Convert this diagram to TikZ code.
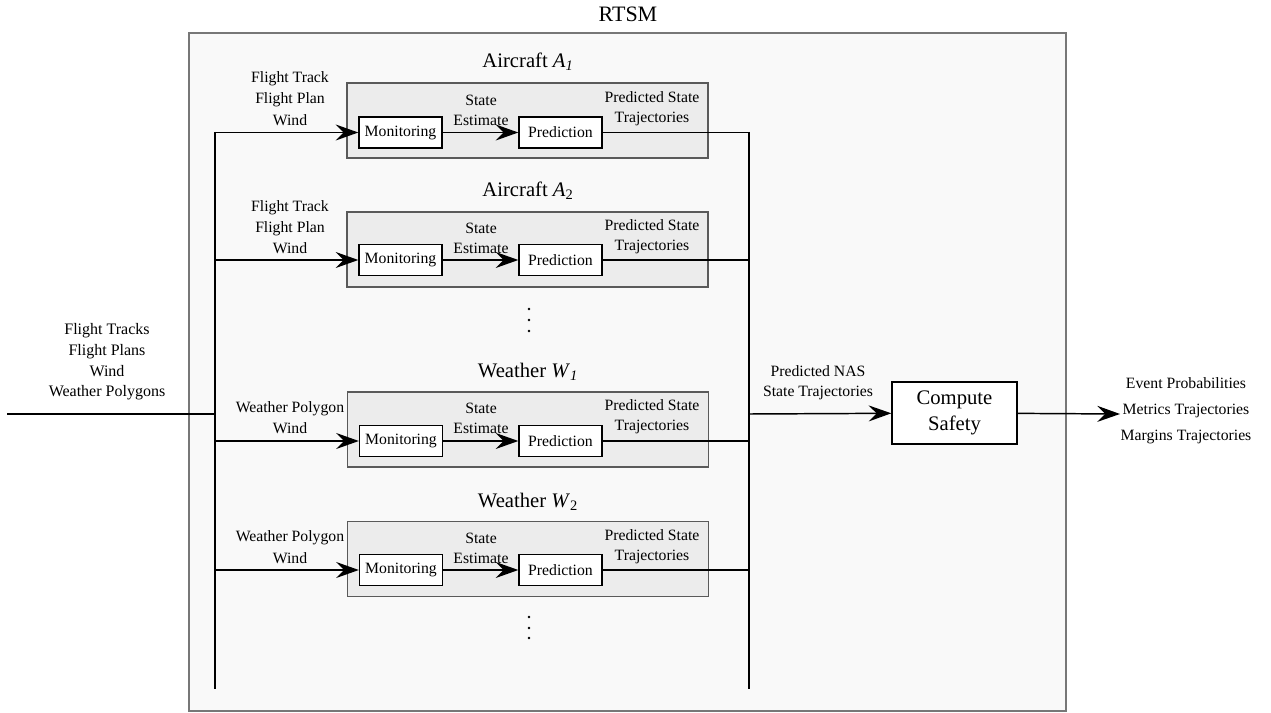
\documentclass[tikz,border=0pt]{standalone}
\usepackage{fontspec}
\setmainfont{Liberation Serif}
\usetikzlibrary{positioning,arrows.meta}
\definecolor{panelfill}{HTML}{F9F9F9}
\definecolor{panelline}{HTML}{777777}
\definecolor{agentfill}{HTML}{ECECEC}
\definecolor{agentline}{HTML}{5A5A5A}

\begin{document}
\begin{tikzpicture}
    [ x=0.75pt, y=-0.75pt
    , >={Stealth[length=17pt,width=12pt,inset=6pt]}
    , panel/.style={draw=panelline, line width=1.4pt, fill=panelfill, minimum width=657.75pt, minimum height=508.5pt}
    , agent/.style={draw=agentline, line width=1.2pt, fill=agentfill, minimum width=270.75pt, minimum height=56.25pt}
    , block/.style={draw, line width=1pt, fill=white, minimum width=62.25pt, minimum height=23.25pt, inner sep=1pt, font=\fontsize{11.8}{13}\selectfont}
    , safety/.style={draw, line width=1pt, fill=white, minimum width=93.75pt, minimum height=46.5pt, align=center, inner sep=1pt, font=\fontsize{15.5}{19.5}\selectfont}
    , title/.style={inner sep=0pt, font=\fontsize{15.5}{18}\selectfont}
    , lbl/.style={align=center, inner sep=0pt, font=\fontsize{11.8}{#1}\selectfont}
    , lbl/.default=15
    , bus/.style={line width=2.2pt}
    , flow/.style={line width=1.1pt}
    ]
  \useasboundingbox (0,0) rectangle (1271,713);

  \node[panel] (rtsm) at (627.5,372) {};
  \node[title, font=\fontsize{16.5}{19}\selectfont] (rtsmtitle) at (628,14) {RTSM};

  \coordinate (src) at (7,414);
  \coordinate (bl-top) at (215,132);
  \coordinate (bl-mid) at (215,414);
  \coordinate (bl-bot) at (215,689);
  \coordinate (br-top) at (749,132);
  \coordinate (br-mid) at (749,414);
  \coordinate (br-bot) at (749,689);
  \coordinate (sink) at (1120,414);

  \node[agent] (ag1) at (527.5,120.5) {};
  \node[title] (ag1title) at (528,62) {Aircraft \textit{A}\textsubscript{\textit{1}}};
  \node[block] (mon1) at (400.5,132.5) {Monitoring};
  \node[block] (pred1) at (560.5,132.5) {Prediction};
  \node[lbl=16] (in1) at (290,98.5) {Flight Track\\Flight Plan\\Wind};
  \node[lbl] (est1) at (481,110) {State\\Estimate};
  \node[lbl] (traj1) at (652,109) {Predicted State\\Trajectories};
  \coordinate (a1) at (bl-top |- mon1);
  \coordinate (b1) at (br-top |- pred1);

  \node[agent] (ag2) at (527.5,249.5) {};
  \node[title] (ag2title) at (528,191) {Aircraft \textit{A}\textsubscript{2}};
  \node[block] (mon2) at (400.5,260) {Monitoring};
  \node[block] (pred2) at (560.5,260) {Prediction};
  \node[lbl=16] (in2) at (290,227) {Flight Track\\Flight Plan\\Wind};
  \node[lbl] (est2) at (481,238) {State\\Estimate};
  \node[lbl] (traj2) at (652,237) {Predicted State\\Trajectories};
  \coordinate (a2) at (bl-top |- mon2);
  \coordinate (b2) at (br-top |- pred2);

  \fill (529,309) circle (1.3) (529,320) circle (1.3) (529,331) circle (1.3);

  \node[agent] (wx1) at (528,429.5) {};
  \node[title] (wx1title) at (528,372) {Weather \textit{W}\textsubscript{\textit{1}}};
  \node[block] (mon3) at (401,441) {Monitoring};
  \node[block] (pred3) at (560.5,441) {Prediction};
  \node[lbl=15.75] (in3) at (290,417.5) {Weather Polygon\\Wind};
  \node[lbl] (est3) at (481,418) {State\\Estimate};
  \node[lbl] (traj3) at (652,417) {Predicted State\\Trajectories};
  \coordinate (a3) at (bl-top |- mon3);
  \coordinate (b3) at (br-top |- pred3);

  \node[agent] (wx2) at (528,559) {};
  \node[title] (wx2title) at (528,502) {Weather \textit{W}\textsubscript{2}};
  \node[block] (mon4) at (401,570) {Monitoring};
  \node[block] (pred4) at (560.5,570) {Prediction};
  \node[lbl=16.5] (in4) at (290,547) {Weather Polygon\\Wind};
  \node[lbl] (est4) at (481,548) {State\\Estimate};
  \node[lbl] (traj4) at (652,547) {Predicted State\\Trajectories};
  \coordinate (a4) at (bl-top |- mon4);
  \coordinate (b4) at (br-top |- pred4);

  \fill (529,617) circle (1.3) (529,628) circle (1.3) (529,638) circle (1.3);

  \node[safety] (safety) at (954.5,413) {Compute\\Safety};
  \node[lbl=15.5, font=\fontsize{12}{15.5}\selectfont] (inputs) at (107,362) {Flight Tracks\\Flight Plans\\Wind\\Weather Polygons};
  \node[lbl] (nas) at (818,383) {Predicted NAS\\State Trajectories};
  \node[lbl=19.5] (outputs) at (1186,411) {Event Probabilities\\Metrics Trajectories\\Margins Trajectories};

  \draw[bus] (src) -- (bl-mid);
  \draw[bus] (bl-top) -- (bl-bot);
  \draw[bus] (br-top) -- (br-bot);

  \draw[flow,->] (a1) -- (mon1);
  \draw[flow,->] (mon1) -- (pred1);
  \draw[flow] (pred1) -- (b1);
  \draw[flow,->] (a2) -- (mon2);
  \draw[flow,->] (mon2) -- (pred2);
  \draw[flow] (pred2) -- (b2);
  \draw[flow,->] (a3) -- (mon3);
  \draw[flow,->] (mon3) -- (pred3);
  \draw[flow] (pred3) -- (b3);
  \draw[flow,->] (a4) -- (mon4);
  \draw[flow,->] (mon4) -- (pred4);
  \draw[flow] (pred4) -- (b4);

  \draw[flow,->] (br-mid) -- (safety);
  \draw[flow,->] (safety) -- (sink);
\end{tikzpicture}
\end{document}
